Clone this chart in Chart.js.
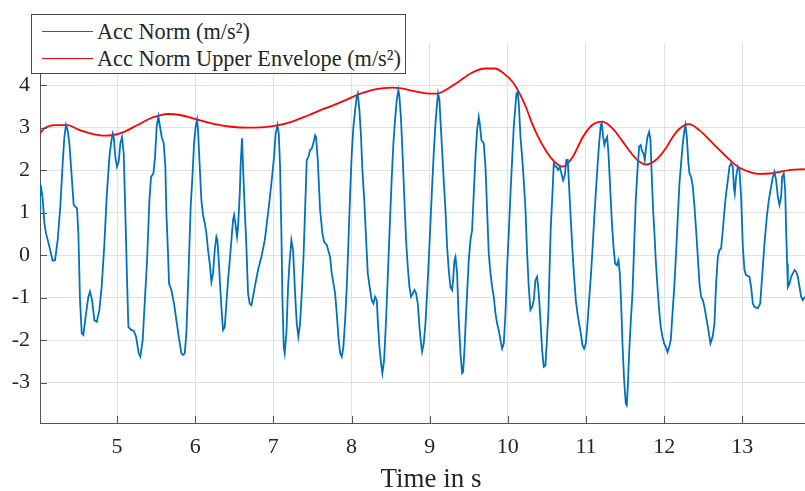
<!DOCTYPE html>
<html><head><meta charset="utf-8">
<script src="https://cdn.jsdelivr.net/npm/chart.js@4"></script>
<style>
html,body{margin:0;padding:0;background:#fff;overflow:hidden;width:805px;height:491px;}
#wrap{position:absolute;left:0;top:0;width:822px;height:491px;}
#legend{position:absolute;left:31px;top:14px;width:373px;height:58px;border:1.5px solid #4a4a4a;background:#fff;font-family:'Liberation Serif',serif;font-size:22.3px;color:#262626;}
.row{position:absolute;left:0;height:26px;line-height:26px;width:100%;}
.sw{position:absolute;left:10px;top:12px;width:51px;height:0;border-top:1.5px solid;}
.tx{position:absolute;left:65px;top:0;white-space:nowrap;}
</style></head>
<body>
<div id="wrap"><canvas id="c" width="822" height="491"></canvas></div>
<div id="legend">
  <div class="row" style="top:3.5px"><div class="sw" style="border-color:#0072BD"></div><div class="tx">Acc Norm (m/s²)</div></div>
  <div class="row" style="top:30.5px"><div class="sw" style="border-color:#FF0000"></div><div class="tx">Acc Norm Upper Envelope (m/s²)</div></div>
</div>
<script>
const accTime = [4.01,4.02,4.027,4.048,4.070,4.091,4.134,4.176,4.206,4.240,4.274,4.304,4.326,4.347,4.368,4.390,4.411,4.445,4.488,4.505,4.526,4.548,4.569,4.603,4.633,4.654,4.680,4.710,4.740,4.774,4.803,4.838,4.867,4.902,4.923,4.944,4.957,4.978,4.999,5.021,5.042,5.064,5.085,5.106,5.128,5.145,5.179,5.213,5.243,5.277,5.298,5.328,5.358,5.384,5.414,5.435,5.465,5.486,5.507,5.529,5.550,5.571,5.597,5.618,5.631,5.652,5.665,5.695,5.729,5.759,5.789,5.823,5.844,5.866,5.887,5.917,5.942,5.964,5.985,6.006,6.024,6.036,6.058,6.079,6.100,6.122,6.143,6.164,6.186,6.207,6.228,6.250,6.271,6.284,6.301,6.322,6.343,6.356,6.378,6.399,6.420,6.442,6.463,6.484,6.497,6.514,6.535,6.548,6.570,6.582,6.599,6.612,6.634,6.655,6.676,6.697,6.719,6.740,6.770,6.804,6.847,6.890,6.932,6.975,7.009,7.030,7.052,7.069,7.086,7.103,7.116,7.133,7.145,7.167,7.188,7.209,7.231,7.252,7.278,7.299,7.320,7.342,7.363,7.384,7.406,7.427,7.448,7.470,7.491,7.512,7.534,7.546,7.568,7.598,7.627,7.649,7.683,7.726,7.747,7.790,7.811,7.832,7.854,7.875,7.896,7.918,7.939,7.960,7.982,8.003,8.024,8.046,8.067,8.080,8.101,8.122,8.139,8.165,8.191,8.208,8.238,8.259,8.280,8.302,8.323,8.336,8.357,8.378,8.395,8.417,8.438,8.464,8.489,8.515,8.536,8.557,8.579,8.600,8.613,8.634,8.656,8.677,8.698,8.720,8.741,8.762,8.784,8.805,8.826,8.848,8.869,8.890,8.903,8.924,8.946,8.967,8.988,9.010,9.031,9.052,9.074,9.095,9.108,9.125,9.138,9.159,9.180,9.202,9.223,9.244,9.266,9.287,9.300,9.317,9.330,9.351,9.372,9.394,9.415,9.428,9.445,9.458,9.479,9.500,9.522,9.543,9.564,9.586,9.607,9.628,9.641,9.662,9.692,9.714,9.735,9.756,9.778,9.799,9.820,9.842,9.863,9.884,9.906,9.927,9.948,9.970,9.991,10.012,10.034,10.055,10.076,10.097,10.110,10.127,10.140,10.162,10.183,10.204,10.226,10.247,10.268,10.289,10.311,10.332,10.353,10.375,10.396,10.417,10.439,10.460,10.481,10.498,10.520,10.537,10.550,10.571,10.588,10.605,10.622,10.643,10.665,10.686,10.707,10.729,10.750,10.767,10.784,10.806,10.827,10.848,10.870,10.891,10.912,10.934,10.955,10.976,10.998,11.019,11.040,11.062,11.083,11.104,11.125,11.147,11.168,11.190,11.202,11.219,11.236,11.253,11.271,11.288,11.309,11.330,11.352,11.373,11.394,11.416,11.433,11.450,11.467,11.488,11.509,11.522,11.535,11.552,11.574,11.595,11.616,11.637,11.659,11.680,11.701,11.714,11.736,11.753,11.765,11.787,11.808,11.825,11.842,11.859,11.876,11.893,11.915,11.936,11.957,11.979,12.000,12.021,12.043,12.064,12.085,12.107,12.128,12.153,12.175,12.196,12.217,12.239,12.260,12.273,12.290,12.311,12.324,12.345,12.367,12.388,12.409,12.431,12.452,12.473,12.495,12.516,12.537,12.559,12.593,12.623,12.644,12.665,12.687,12.708,12.729,12.751,12.772,12.793,12.815,12.836,12.857,12.879,12.892,12.904,12.921,12.943,12.964,12.985,13.007,13.028,13.049,13.092,13.113,13.135,13.156,13.199,13.229,13.254,13.284,13.314,13.339,13.369,13.391,13.412,13.433,13.455,13.476,13.497,13.510,13.531,13.549,13.561,13.574,13.583,13.604,13.625,13.647,13.668,13.689,13.711,13.732,13.753,13.775,13.800];
const accNorm = [0.98,1.65,1.61,1.33,0.75,0.51,0.20,-0.13,-0.12,0.35,1.14,2.16,2.78,3.06,2.94,2.63,2.08,1.18,1.10,0.51,-1.06,-1.84,-1.88,-1.37,-0.98,-0.86,-1.06,-1.53,-1.57,-1.29,-0.74,0.27,1.37,2.31,2.63,2.86,2.78,2.31,2.08,2.20,2.63,2.78,2.39,0.98,-0.59,-1.69,-1.76,-1.78,-1.92,-2.31,-2.39,-2.00,-0.98,-0.12,1.29,1.84,1.92,2.31,3.02,3.26,3.02,2.78,2.63,2.08,1.00,0.04,-0.67,-0.82,-1.14,-1.53,-1.92,-2.31,-2.35,-2.31,-1.84,-0.27,1.14,1.84,2.63,3.02,3.18,2.94,2.08,1.29,0.94,0.75,0.51,0.12,-0.20,-0.63,-0.43,0.12,0.43,0.35,-0.12,-0.82,-1.45,-1.76,-1.69,-1.14,-0.59,-0.12,0.35,0.82,0.94,0.75,0.43,0.67,1.45,2.16,2.75,2.08,1.06,0.20,-0.90,-1.14,-1.18,-0.98,-0.67,-0.35,-0.04,0.35,0.98,1.69,2.31,2.86,3.06,2.86,2.08,0.51,-1.06,-2.16,-2.31,-1.84,-0.75,-0.12,0.35,0.12,-0.90,-1.61,-1.92,-1.61,-0.90,-0.12,1.06,2.24,2.31,2.47,2.51,2.63,2.82,2.78,2.24,1.06,0.51,0.31,0.24,-0.04,-0.43,-0.90,-1.37,-1.92,-2.31,-2.39,-2.16,-1.53,-0.75,0.28,1.45,2.39,3.02,3.41,3.73,3.80,3.41,2.78,2.00,1.22,0.20,-0.43,-0.82,-1.06,-1.14,-0.98,-1.06,-1.53,-2.16,-2.55,-2.78,-2.47,-1.69,-0.51,0.67,1.84,2.63,3.18,3.65,3.88,3.73,3.18,2.24,1.29,0.35,-0.28,-0.75,-0.98,-0.90,-0.82,-0.90,-1.14,-1.69,-2.08,-2.27,-2.08,-1.61,-0.90,-0.12,0.75,1.61,2.39,3.10,3.57,3.80,3.65,3.18,2.47,1.76,1.06,0.20,-0.35,-0.75,-0.82,-0.59,-0.12,-0.04,-0.43,-1.53,-2.31,-2.78,-2.75,-2.24,-1.69,-0.90,-0.12,0.35,0.59,1.45,2.31,2.94,3.25,3.10,2.71,2.63,2.08,1.06,0.04,-0.43,-0.75,-0.98,-1.37,-1.61,-1.77,-2.00,-2.20,-2.08,-1.37,-0.28,0.51,1.45,2.24,3.02,3.49,3.80,3.84,3.57,2.78,2.31,1.76,1.06,0.04,-0.75,-1.29,-1.22,-1.06,-0.59,-0.51,-0.90,-1.53,-2.24,-2.63,-2.60,-2.08,-1.29,-0.12,0.67,1.45,2.16,2.08,2.08,2.00,2.08,1.92,1.76,1.88,2.24,2.24,1.61,0.82,0.12,-0.51,-1.06,-1.37,-1.61,-1.84,-2.12,-2.20,-2.08,-1.61,-1.06,-0.51,0.12,0.82,1.45,2.08,2.63,3.06,3.10,2.78,2.59,2.71,2.78,2.39,1.61,0.82,0.20,-0.20,-0.24,-0.12,-0.43,-1.14,-2.08,-2.94,-3.49,-3.53,-3.10,-2.31,-1.53,-0.90,0.20,1.29,2.00,2.55,2.59,2.47,2.39,2.24,2.47,2.78,2.90,2.71,1.84,1.06,0.51,-0.12,-0.75,-1.29,-1.69,-1.92,-2.08,-2.16,-2.28,-2.16,-2.00,-1.37,-0.80,0.05,0.90,1.69,2.16,2.63,2.94,3.06,2.78,2.16,1.92,1.84,1.61,1.14,0.59,-0.04,-0.67,-0.98,-1.06,-1.22,-1.45,-1.69,-2.08,-1.90,-1.61,-0.67,-0.04,0.12,0.16,0.59,1.06,1.45,1.76,2.08,2.16,2.08,1.61,1.45,1.84,2.08,2.00,1.37,0.20,-0.35,-0.47,-0.51,-0.75,-1.14,-1.22,-1.25,-1.14,-0.51,0.28,0.90,1.29,1.61,1.84,1.96,1.76,1.37,1.18,1.37,1.84,1.92,1.53,0.59,-0.20,-0.75,-0.67,-0.51,-0.43,-0.35,-0.39,-0.51,-0.75,-0.98,-1.06,-0.98];
const envTime = [4.01,4.07,4.20,4.37,4.50,4.67,4.84,4.94,5.09,5.26,5.43,5.52,5.65,5.82,6.04,6.25,6.46,6.68,6.89,7.05,7.24,7.45,7.66,7.88,8.09,8.30,8.52,8.64,8.77,8.90,8.99,9.10,9.20,9.37,9.54,9.71,9.84,9.95,10.06,10.14,10.23,10.31,10.40,10.49,10.57,10.70,10.83,10.96,11.08,11.21,11.34,11.47,11.60,11.68,11.77,11.89,12.02,12.11,12.20,12.32,12.45,12.58,12.71,12.84,12.96,13.09,13.22,13.35,13.48,13.60,13.80];
const envValue = [2.86,2.98,3.06,3.06,2.96,2.86,2.81,2.82,2.90,3.06,3.22,3.27,3.32,3.29,3.18,3.08,3.02,3.00,3.01,3.05,3.14,3.29,3.45,3.61,3.78,3.90,3.94,3.92,3.87,3.82,3.80,3.80,3.88,4.08,4.29,4.39,4.39,4.27,4.08,3.84,3.49,3.10,2.74,2.45,2.25,2.08,2.31,2.78,3.06,3.14,2.98,2.67,2.35,2.20,2.13,2.23,2.51,2.78,2.98,3.08,2.94,2.71,2.47,2.24,2.06,1.96,1.91,1.92,1.96,2.00,2.02];
const xTickValues = [5,6,7,8,9,10,11,12,13];
const yTickValues = [-3,-2,-1,0,1,2,3,4];

const font = 'Liberation Serif';
const inwardTicks = {
  id: 'inwardTicks',
  afterDatasetsDraw(chart) {
    const {ctx, chartArea: a, scales: {x, y}} = chart;
    ctx.save();
    ctx.strokeStyle = '#555';
    ctx.lineWidth = 1;
    ctx.beginPath();
    xTickValues.forEach(v => { const p = Math.round(x.getPixelForValue(v)) + 0.5; ctx.moveTo(p, a.bottom); ctx.lineTo(p, a.bottom - 7); });
    yTickValues.forEach(v => { const p = Math.round(y.getPixelForValue(v)) + 0.5; ctx.moveTo(a.left, p); ctx.lineTo(a.left + 7, p); });
    ctx.stroke();
    ctx.restore();
  }
};

new Chart(document.getElementById('c'), {
  type: 'line',
  data: {
    datasets: [
      { label: 'Acc Norm (m/s²)', data: accTime.map((t, i) => ({x: t, y: accNorm[i]})), borderColor: '#0072BD', borderWidth: 1.8, pointRadius: 0, tension: 0, fill: false },
      { label: 'Acc Norm Upper Envelope (m/s²)', data: envTime.map((t, i) => ({x: t, y: envValue[i]})), borderColor: '#FF0000', borderWidth: 1.8, pointRadius: 0, cubicInterpolationMode: 'monotone', fill: false }
    ]
  },
  options: {
    responsive: false, animation: false, devicePixelRatio: 1,
    layout: { padding: { top: 43, right: 0, left: 0, bottom: 0 } },
    plugins: { legend: { display: false }, tooltip: { enabled: false } },
    scales: {
      x: {
        type: 'linear', min: 4.014, max: 14.02,
        afterFit: s => { s.height = 68; },
        afterBuildTicks: s => { s.ticks = xTickValues.map(v => ({value: v})); },
        ticks: { padding: 11, autoSkip: false, maxRotation: 0, color: '#262626', font: { family: font, size: 22 } },
        grid: { color: '#e2e2e2', lineWidth: 1, drawTicks: false },
        border: { display: true, color: '#555', width: 1 },
        title: { display: true, text: 'Time in s', color: '#262626', font: { family: font, size: 27, lineHeight: 0.82 }, padding: { top: 0, bottom: 0 } }
      },
      y: {
        type: 'linear', min: -3.95, max: 4.99,
        afterFit: s => { s.width = 40; },
        afterBuildTicks: s => { s.ticks = yTickValues.map(v => ({value: v})); },
        ticks: { padding: 10, color: '#262626', font: { family: font, size: 22 } },
        grid: { color: '#e2e2e2', lineWidth: 1, drawTicks: false },
        border: { display: true, color: '#555', width: 1 }
      }
    }
  },
  plugins: [inwardTicks]
});
</script>
</body></html>
